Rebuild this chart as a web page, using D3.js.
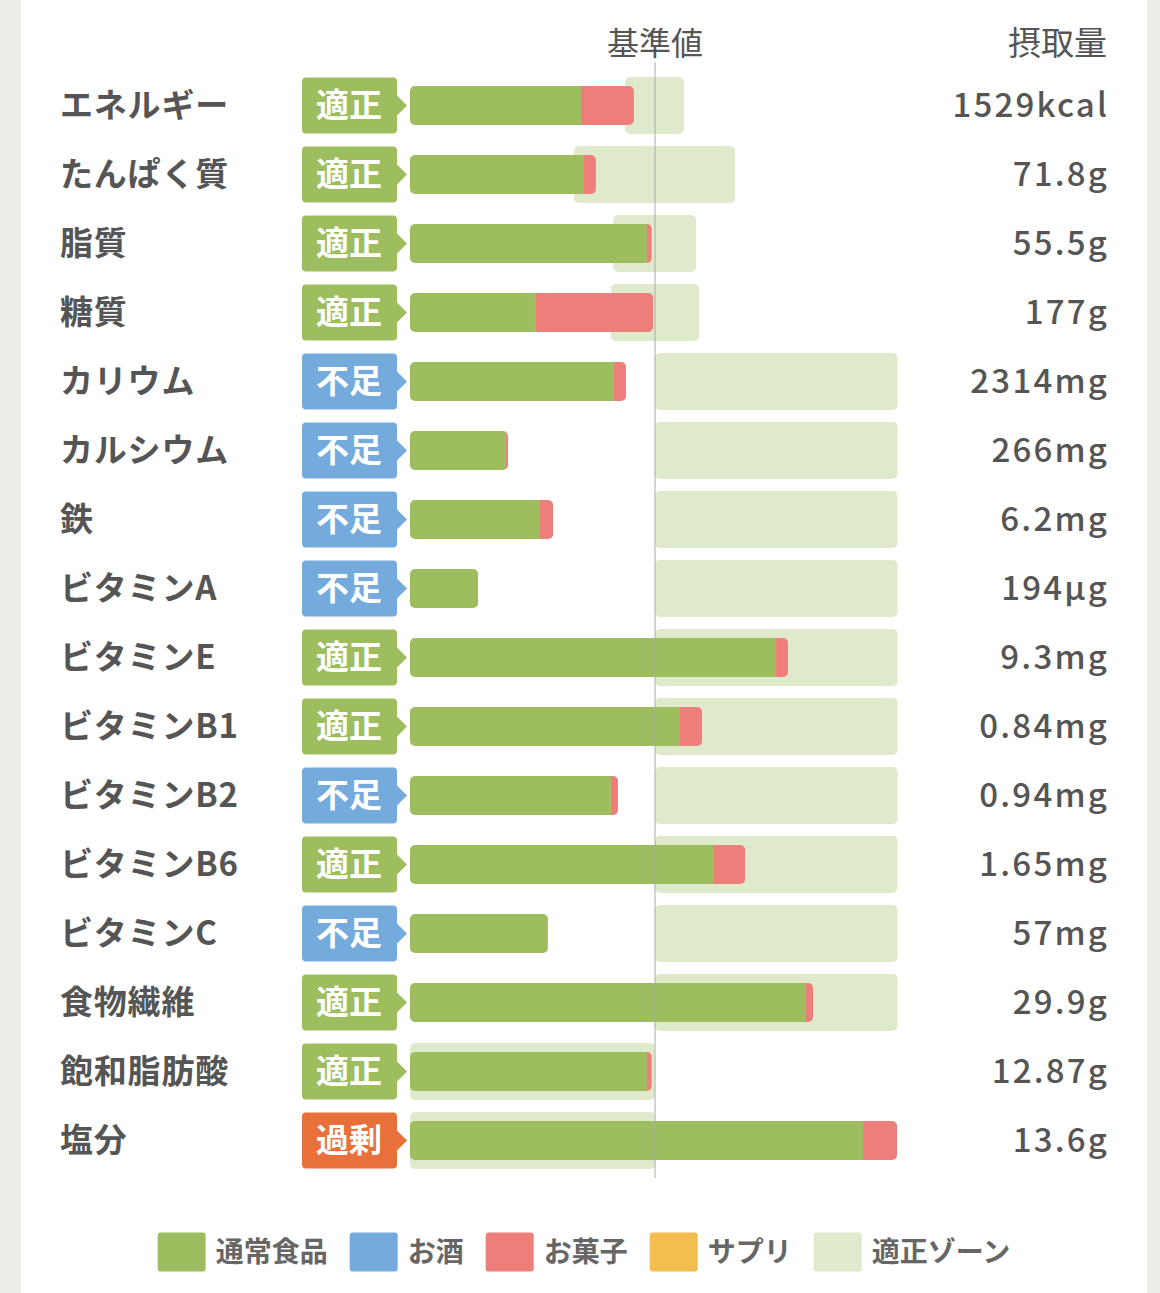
<!DOCTYPE html>
<html lang="ja">
<head>
<meta charset="utf-8">
<script src="https://cdn.jsdelivr.net/npm/d3@7"></script>
<style>
  html, body { margin: 0; padding: 0; background: #eeeee8; }
  svg { display: block; font-family: "Noto Sans CJK JP", "Noto Sans", sans-serif; }
</style>
</head>
<body>
<div id="chart"></div>
<script>
// nutrients, top to bottom
const nutrients = ["エネルギー", "たんぱく質", "脂質", "糖質", "カリウム", "カルシウム", "鉄",
  "ビタミンA", "ビタミンE", "ビタミンB1", "ビタミンB2", "ビタミンB6", "ビタミンC",
  "食物繊維", "飽和脂肪酸", "塩分"];
const amounts = ["1529kcal", "71.8g", "55.5g", "177g", "2314mg", "266mg", "6.2mg", "194µg",
  "9.3mg", "0.84mg", "0.94mg", "1.65mg", "57mg", "29.9g", "12.87g", "13.6g"];
const judgement = ["適正", "適正", "適正", "適正", "不足", "不足", "不足", "不足",
  "適正", "適正", "不足", "適正", "不足", "適正", "適正", "過剰"];
// % of the reference value, by source
const foodPct = [69.8, 71.0, 96.7, 51.4, 83.3, 39.2, 52.7, 27.8, 149.4, 110.2, 82.0, 123.7, 56.3, 161.6, 96.7, 184.9];
const alcoholPct = [0, 0, 0, 0, 0, 0, 0, 0, 0, 0, 0, 0, 0, 0, 0, 0];
const sweetsPct = [21.6, 4.9, 2.0, 47.8, 4.9, 0.8, 5.7, 0, 4.9, 9.0, 2.9, 13.1, 0, 2.9, 2.0, 13.9];
const supplementPct = [0, 0, 0, 0, 0, 0, 0, 0, 0, 0, 0, 0, 0, 0, 0, 0];
// appropriate zone (% of reference)
const zoneLow = [87.8, 66.9, 82.9, 82.0, 100, 100, 100, 100, 100, 100, 100, 100, 100, 100, 0, 0];
const zoneHigh = [111.8, 132.7, 116.7, 118.0, 199, 199, 199, 199, 199, 199, 199, 199, 199, 199, 100, 100];

const legendLabels = ["通常食品", "お酒", "お菓子", "サプリ", "適正ゾーン"];
const sources = ["food", "alcohol", "sweets", "supplement"];

const W = 1160, H = 1293;
const textColor = "#555";

const sourceColor = d3.scaleOrdinal()
  .domain(sources)
  .range(["#9dbd5e", "#74aadc", "#ee7e7a", "#f3be50"]);
const zoneColor = "#dfe9cc";
const judgeColor = d3.scaleOrdinal()
  .domain(["適正", "不足", "過剰"])
  .range(["#9dbd5e", "#74aadc", "#e8703a"]);

let svg = d3.select("#chart").append("svg")
  .attr("width", W)
  .attr("height", H);

// white panel
svg.append("rect")
  .attr("x", 21).attr("y", 0)
  .attr("width", 1126).attr("height", H)
  .attr("fill", "#fff");

let x = d3.scaleLinear().domain([0, 200]).range([410, 900]);
let y = d3.scaleBand().domain(nutrients).range([71, 71 + nutrients.length * 69]);

let rows = nutrients.map((name, i) => {
  let segs = [];
  let acc = 0;
  [foodPct[i], alcoholPct[i], sweetsPct[i], supplementPct[i]].forEach((v, k) => {
    if (v > 0) segs.push({ key: sources[k], x0: acc, x1: acc + v });
    acc += v;
  });
  return { name, i, segs, total: acc };
});

// headers
svg.append("text")
  .attr("x", x(100)).attr("y", 55)
  .attr("text-anchor", "middle")
  .attr("font-size", 32).attr("fill", textColor)
  .text("基準値");
svg.append("text")
  .attr("x", 1107).attr("y", 55)
  .attr("text-anchor", "end")
  .attr("font-size", 33).attr("fill", textColor)
  .text("摂取量");

let row = svg.selectAll("g.row").data(rows).enter()
  .append("g")
  .attr("class", "row")
  .attr("transform", d => `translate(0,${y(d.name) + y.bandwidth() / 2})`);

// nutrient name
row.append("text")
  .attr("x", 60).attr("y", 0)
  .attr("dy", "0.36em")
  .attr("font-size", 33).attr("font-weight", 700)
  .attr("letter-spacing", 0.8)
  .attr("fill", textColor)
  .text(d => d.name);

// badge with arrow
row.append("path")
  .attr("d", () => {
    let x0 = 302, x1 = 397, h = 28, r = 4;
    return `M${x0 + r},${-h} L${x1 - r},${-h} Q${x1},${-h} ${x1},${-h + r} L${x1},-10 L${x1 + 10},0 L${x1},10
      L${x1},${h - r} Q${x1},${h} ${x1 - r},${h} L${x0 + r},${h} Q${x0},${h} ${x0},${h - r}
      L${x0},${-h + r} Q${x0},${-h} ${x0 + r},${-h} Z`;
  })
  .attr("fill", d => judgeColor(judgement[d.i]));
row.append("text")
  .attr("x", 349).attr("y", 0)
  .attr("dy", "0.36em")
  .attr("text-anchor", "middle")
  .attr("font-size", 33).attr("font-weight", 700)
  .attr("fill", "#fff")
  .text(d => judgement[d.i]);

// appropriate zone
row.append("rect")
  .attr("x", d => x(zoneLow[d.i]))
  .attr("y", -28.5)
  .attr("width", d => x(zoneHigh[d.i]) - x(zoneLow[d.i]))
  .attr("height", 57)
  .attr("rx", 5)
  .attr("fill", zoneColor);

// stacked intake bar clipped to a rounded shape
let defs = svg.append("defs");
defs.selectAll("clipPath").data(rows).enter()
  .append("clipPath")
  .attr("id", d => "clip" + d.i)
  .append("rect")
  .attr("x", x(0))
  .attr("y", -19.5)
  .attr("width", d => x(d.total) - x(0))
  .attr("height", 39)
  .attr("rx", 5);

row.append("g")
  .attr("clip-path", d => `url(#clip${d.i})`)
  .selectAll("rect").data(d => d.segs).enter()
  .append("rect")
  .attr("x", s => x(s.x0))
  .attr("y", -19.5)
  .attr("width", s => x(s.x1) - x(s.x0))
  .attr("height", 39)
  .attr("fill", s => sourceColor(s.key));

// intake amount
row.append("text")
  .attr("x", 1109).attr("y", 0)
  .attr("dy", "0.36em")
  .attr("text-anchor", "end")
  .attr("font-size", 33).attr("font-weight", 500)
  .attr("letter-spacing", 2.2)
  .attr("fill", textColor)
  .text(d => amounts[d.i]);

// reference line at 100%
svg.append("line")
  .attr("x1", x(100)).attr("x2", x(100))
  .attr("y1", 62).attr("y2", 1178)
  .attr("stroke", "#aaa")
  .attr("stroke-width", 1);

// legend
let legendFill = legendLabels.map((l, i) => i < sources.length ? sourceColor(sources[i]) : zoneColor);
let legend = svg.append("g").attr("class", "legend");
let items = legend.selectAll("g").data(legendLabels).enter().append("g");
items.append("rect")
  .attr("width", 48).attr("height", 39)
  .attr("y", -19.5)
  .attr("rx", 3)
  .attr("fill", (d, i) => legendFill[i]);
items.append("text")
  .attr("x", 58).attr("y", 0)
  .attr("dy", "0.36em")
  .attr("font-size", 28).attr("font-weight", 700)
  .attr("fill", "#666")
  .text(d => d);

let gap = 22;
let offset = 0;
items.each(function () {
  let w = 58 + d3.select(this).select("text").node().getComputedTextLength();
  d3.select(this).attr("transform", `translate(${offset},0)`);
  offset += w + gap;
});
let total = offset - gap;
legend.attr("transform", `translate(${(21 + 1147) / 2 - total / 2},1252)`);
</script>
</body>
</html>
